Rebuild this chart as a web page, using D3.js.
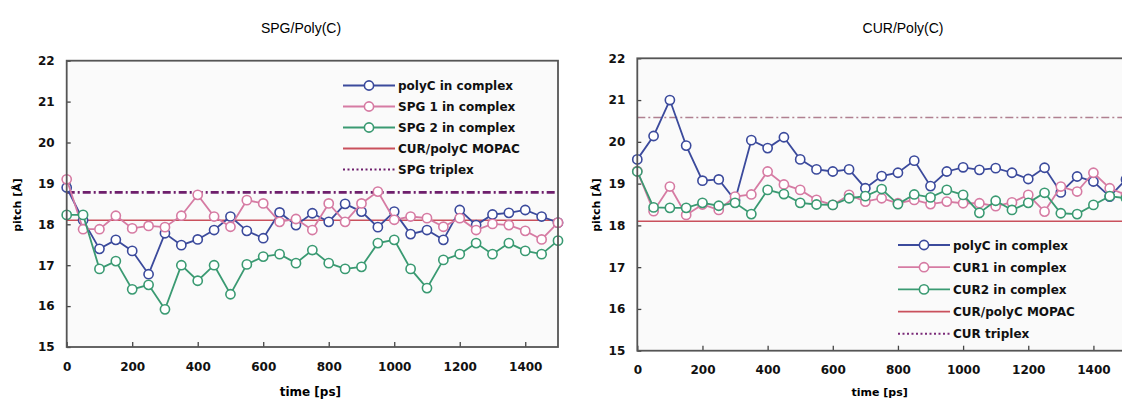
<!DOCTYPE html>
<html>
<head>
<meta charset="utf-8">
<script src="https://cdn.jsdelivr.net/npm/d3@7"></script>
<style>
  body { margin: 0; background: #fff; }
  svg { display: block; }
  .tick text { font-family: "DejaVu Sans", sans-serif; font-weight: bold; font-size: 12px; fill: #111; }
  .tick line { stroke: #444; stroke-width: 1.3; }
  .domain { display: none; }
</style>
</head>
<body>
<svg id="chart" width="1122" height="399"></svg>
<script>
const times = [0, 50, 100, 150, 200, 250, 300, 350, 400, 450, 500, 550, 600, 650, 700, 750,
  800, 850, 900, 950, 1000, 1050, 1100, 1150, 1200, 1250, 1300, 1350, 1400, 1450, 1500];

// SPG/Poly(C)
const spgPolyC = [18.90, 18.10, 17.40, 17.62, 17.35, 16.78, 17.78, 17.49, 17.63, 17.86, 18.19, 17.84, 17.66, 18.29, 17.98, 18.27,
  18.06, 18.50, 18.31, 17.93, 18.31, 17.76, 17.86, 17.62, 18.35, 17.98, 18.24, 18.28, 18.35, 18.19, 18.04];
const spg1 = [19.10, 17.88, 17.88, 18.21, 17.90, 17.96, 17.93, 18.21, 18.72, 18.19, 17.94, 18.59, 18.51, 18.06, 18.13, 17.86,
  18.51, 18.06, 18.51, 18.80, 18.11, 18.19, 18.15, 17.94, 18.15, 17.86, 18.01, 17.98, 17.84, 17.63, 18.04];
const spg2 = [18.23, 18.23, 16.91, 17.10, 16.41, 16.52, 15.92, 17.00, 16.62, 17.00, 16.29, 17.02, 17.21, 17.27, 17.05, 17.37,
  17.05, 16.91, 16.96, 17.54, 17.62, 16.91, 16.44, 17.13, 17.27, 17.54, 17.27, 17.54, 17.35, 17.27, 17.60];
const spgMopac = 18.1;
const spgTriplex = 18.78;

// CUR/Poly(C)
const curPolyC = [19.58, 20.14, 21.00, 19.91, 19.07, 19.10, 18.60, 20.04, 19.85, 20.11, 19.58, 19.34, 19.29, 19.34, 18.89, 19.18,
  19.26, 19.55, 18.94, 19.29, 19.39, 19.33, 19.37, 19.26, 19.11, 19.38, 18.79, 19.17, 19.05, 18.69, 19.10];
const cur1 = [19.30, 18.34, 18.93, 18.25, 18.50, 18.37, 18.69, 18.74, 19.29, 18.98, 18.85, 18.61, 18.49, 18.73, 18.57, 18.65,
  18.53, 18.61, 18.51, 18.57, 18.53, 18.53, 18.46, 18.55, 18.73, 18.33, 18.93, 18.81, 19.26, 18.89, 18.73];
const cur2 = [19.29, 18.43, 18.42, 18.42, 18.54, 18.47, 18.54, 18.27, 18.85, 18.75, 18.54, 18.50, 18.49, 18.65, 18.70, 18.87,
  18.51, 18.74, 18.67, 18.85, 18.73, 18.30, 18.59, 18.37, 18.54, 18.78, 18.29, 18.27, 18.49, 18.70, 18.65];
const curMopac = 18.1;
const curTriplex = 20.58;

const xTicks = [0, 200, 400, 600, 800, 1000, 1200, 1400];
const yTicks = [15, 16, 17, 18, 19, 20, 21, 22];

const blue = '#3b4a9c', pink = '#d67ba3', green = '#3a9a72', red = '#c9505c';

const svg = d3.select('#chart');
svg.append('rect').attr('width', 1122).attr('height', 399).attr('fill', '#fff');

function drawPanel(p) {
  const x = d3.scaleLinear().domain([0, 1500]).range([p.left, p.right]);
  const y = d3.scaleLinear().domain([15, 22]).range([p.bottom, p.top]);
  const g = svg.append('g');

  g.append('rect')
    .attr('x', p.left).attr('y', p.top)
    .attr('width', p.right - p.left).attr('height', p.bottom - p.top)
    .attr('fill', '#fafafa');

  g.append('g')
    .attr('transform', `translate(0,${p.bottom})`)
    .call(d3.axisBottom(x).tickValues(xTicks).tickFormat(d3.format('d')).tickSize(-5).tickPadding(15));
  g.append('g')
    .attr('transform', `translate(${p.left},0)`)
    .call(d3.axisLeft(y).tickValues(yTicks).tickFormat(d3.format('d')).tickSize(-4).tickPadding(12));

  // reference lines
  g.append('line')
    .attr('x1', x(0)).attr('x2', x(1500))
    .attr('y1', y(p.mopac)).attr('y2', y(p.mopac))
    .attr('stroke', red).attr('stroke-width', 1.6);
  g.append('line')
    .attr('x1', x(0)).attr('x2', x(1500))
    .attr('y1', y(p.triplex)).attr('y2', y(p.triplex))
    .attr('stroke', p.triplexColor).attr('stroke-width', p.triplexWidth)
    .attr('stroke-dasharray', '8,3,2,3');

  const line = d3.line().x((d, i) => x(times[i])).y(d => y(d));
  p.series.forEach(s => {
    g.append('path').datum(s.values)
      .attr('fill', 'none').attr('stroke', s.color).attr('stroke-width', 1.8)
      .attr('d', line);
    g.selectAll(null).data(s.values).enter().append('circle')
      .attr('cx', (d, i) => x(times[i])).attr('cy', d => y(d)).attr('r', 4.6)
      .attr('fill', '#fff').attr('stroke', s.color).attr('stroke-width', 1.6);
  });

  // frame
  g.append('rect')
    .attr('x', p.left).attr('y', p.top)
    .attr('width', p.right - p.left).attr('height', p.bottom - p.top)
    .attr('fill', 'none').attr('stroke', '#555').attr('stroke-width', 1.8);

  // titles
  g.append('text').attr('x', p.titleX).attr('y', 33)
    .attr('text-anchor', 'middle')
    .style('font-family', 'Liberation Sans, Arial, sans-serif').style('font-size', '14px')
    .text(p.title);
  g.append('text').attr('x', (p.left + Math.min(p.right, 1122)) / 2 + p.xTitleShift).attr('y', 396)
    .attr('text-anchor', 'middle')
    .style('font-family', 'DejaVu Sans, sans-serif').style('font-weight', 'bold').style('font-size', p.xTitleSize)
    .text('time [ps]');
  g.append('text')
    .attr('transform', `translate(${p.yTitleX},205) rotate(-90)`)
    .attr('text-anchor', 'middle')
    .style('font-family', 'DejaVu Sans, sans-serif').style('font-weight', 'bold').style('font-size', '11px')
    .text('pitch [Å]');

  // legend
  const items = p.series.map(s => ({ name: s.name, color: s.color, kind: 'marker' }))
    .concat([{ name: p.mopacName, color: red, kind: 'solid' },
             { name: p.triplexName, color: p.triplexLegendColor, kind: 'dot' }]);
  items.forEach((it, i) => {
    const ly = p.legendY + i * p.legendStep;
    g.append('line')
      .attr('x1', p.legendX).attr('x2', p.legendX + 52)
      .attr('y1', ly).attr('y2', ly)
      .attr('stroke', it.color).attr('stroke-width', it.kind === 'dot' ? 2 : 1.8)
      .attr('stroke-dasharray', it.kind === 'dot' ? '2,2.5' : null);
    if (it.kind === 'marker') {
      g.append('circle').attr('cx', p.legendX + 26).attr('cy', ly).attr('r', 4.6)
        .attr('fill', '#fff').attr('stroke', it.color).attr('stroke-width', 1.6);
    }
    g.append('text').attr('x', p.legendX + 55).attr('y', ly + 4.5)
      .style('font-family', 'DejaVu Sans, sans-serif').style('font-weight', 'bold').style('font-size', '12px')
      .attr('fill', '#111')
      .text(it.name);
  });
}

drawPanel({
  left: 66.7, right: 558, top: 60.7, bottom: 347,
  title: 'SPG/Poly(C)', titleX: 301, xTitleShift: -2, xTitleSize: '12px', yTitleX: 21,
  mopac: spgMopac, triplex: spgTriplex,
  triplexColor: '#6e1f6c', triplexWidth: 2.6, triplexLegendColor: '#6e1f6c',
  mopacName: 'CUR/polyC MOPAC', triplexName: 'SPG triplex',
  legendX: 343, legendY: 85.5, legendStep: 21,
  series: [
    { name: 'polyC in complex', values: spgPolyC, color: blue },
    { name: 'SPG 1 in complex', values: spg1, color: pink },
    { name: 'SPG 2 in complex', values: spg2, color: green }
  ]
});

drawPanel({
  left: 637.3, right: 1126, top: 58.3, bottom: 350.7,
  title: 'CUR/Poly(C)', titleX: 903, xTitleShift: 0, xTitleSize: '11px', yTitleX: 600,
  mopac: curMopac, triplex: curTriplex,
  triplexColor: '#b08090', triplexWidth: 1.5, triplexLegendColor: '#7a2a78',
  mopacName: 'CUR/polyC MOPAC', triplexName: 'CUR triplex',
  legendX: 898, legendY: 245, legendStep: 22.2,
  series: [
    { name: 'polyC in complex', values: curPolyC, color: blue },
    { name: 'CUR1 in complex', values: cur1, color: pink },
    { name: 'CUR2 in complex', values: cur2, color: green }
  ]
});
</script>
</body>
</html>
